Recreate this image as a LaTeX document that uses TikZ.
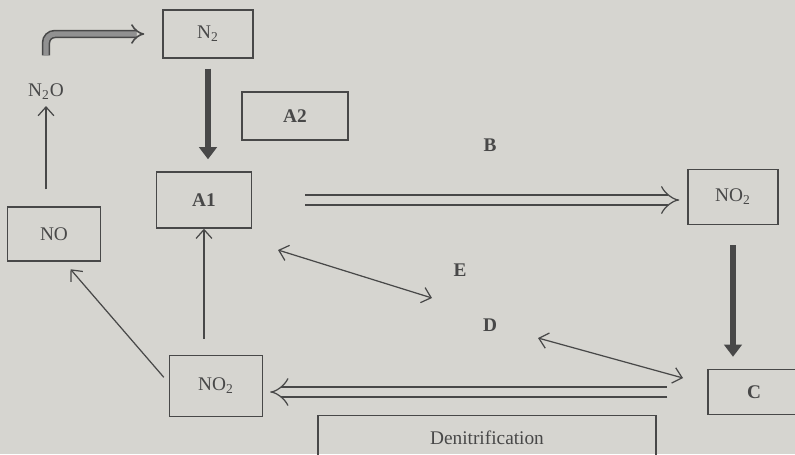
\documentclass[tikz,border=0pt]{standalone}
\usepackage{fontspec}
\setmainfont{Liberation Serif}
\usetikzlibrary{arrows.meta}
\definecolor{paper}{RGB}{214,213,208}
\definecolor{ink}{RGB}{72,72,72}
\tikzset{
  txt/.style={text=ink, font=\fontsize{11}{13}\selectfont},
  bold/.style={text=ink, font=\fontsize{11}{13}\selectfont\bfseries},
  box/.style={draw=ink, line width=0.8pt, inner sep=0pt},
  thin/.style={draw=ink, line width=0.7pt, -{Straight Barb[length=5pt,width=9pt]}},
  both/.style={draw=ink, line width=0.7pt, {Straight Barb[length=5pt,width=9pt]}-{Straight Barb[length=5pt,width=9pt]}},
  heavy/.style={draw=ink, line width=3.4pt, -{Triangle[length=7pt,width=10pt]}},
  hollow/.style={draw=ink, line width=0.7pt, double=paper, double distance=5pt, -Implies},
  hook/.style={draw=ink, line width=0.9pt, double=ink!60, double distance=3pt, rounded corners=5pt, -Implies}
}
\begin{document}
\begin{tikzpicture}[x=0.02cm,y=-0.02cm]
      \fill[paper] (0,0) rectangle (795,454);
      \useasboundingbox (0,0) rectangle (795,454);
      \node[box, txt, minimum width=1.8cm, minimum height=0.96cm] (n2) at (208,34) {N\textsubscript{2}};
      \node[box, bold, minimum width=2.12cm, minimum height=0.96cm] (atwo) at (295,116) {A2};
      \node[box, bold, minimum width=1.9cm, minimum height=1.12cm] (aone) at (204,200) {A1};
      \node[box, txt, minimum width=1.86cm, minimum height=1.08cm] (no) at (54,234) {NO};
      \node[box, txt, minimum width=1.8cm, minimum height=1.1cm] (notwoR) at (733,197) {NO\textsubscript{2}};
      \node[box, bold, minimum width=1.84cm, minimum height=0.9cm] (c) at (754,392) {C};
      \node[box, txt, minimum width=1.86cm, minimum height=1.22cm] (notwoL) at (216,386) {NO\textsubscript{2}};
      \node[box, txt, minimum width=6.76cm, minimum height=0.9cm] (denit) at (487,438) {Denitrification};
      \node[txt] (n2o) at (46,92) {N\textsubscript{2}O};
      \node[bold] (b) at (490,145) {B};
      \node[bold] (e) at (460,270) {E};
      \node[bold] (d) at (490,325) {D};
      \coordinate (eA) at (278,250);
      \coordinate (eB) at (432,298);
      \coordinate (dA) at (538,338);
      \coordinate (dB) at (683,378);
      \draw[hook] ([yshift=0.45cm]n2o.north) |- ([xshift=-0.36cm]n2.west);
      \draw[thin, shorten <=0.34cm] (no.north -| n2o.south) -- (n2o.south);
      \draw[heavy, shorten <=0.2cm, shorten >=0.24cm] (n2.south) -- (n2.south |- aone.north);
      \draw[hollow, shorten <=1.06cm, shorten >=0.16cm] (aone.east) -- (aone.east -| notwoR.west);
      \draw[heavy, shorten <=0.4cm, shorten >=0.24cm] (notwoR.south) -- (notwoR.south |- c.north);
      \draw[hollow, shorten <=0.8cm, shorten >=0.14cm] (c.west) -- (c.west -| notwoL.east);
      \draw[thin, shorten <=0.32cm] (aone.south |- notwoL.north) -- (aone.south);
      \draw[thin, shorten >=0.2cm] ([xshift=-0.1cm,yshift=-0.45cm]notwoL.north west) -- ([xshift=0.2cm]no.south);
      \draw[both] (eA) -- (eB);
      \draw[both] (dA) -- (dB);
    \end{tikzpicture}
\end{document}
